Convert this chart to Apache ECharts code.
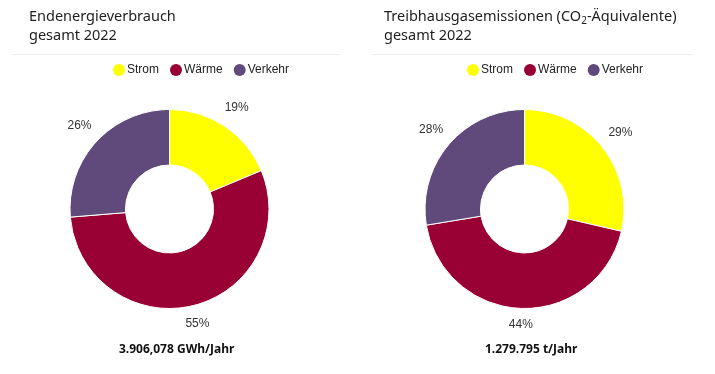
<!DOCTYPE html>
<html>
<head>
<meta charset="utf-8">
<script src="https://cdn.jsdelivr.net/npm/echarts@6/dist/echarts.min.js"></script>
<style>
html,body{margin:0;padding:0;background:#fff;}
#chart{width:715px;height:374px;}
</style>
</head>
<body>
<div id="chart"></div>
<script>
// Data
const categories = ['Strom', 'Wärme', 'Verkehr'];
const energyShares = [18.7, 55.0, 26.3];      // Endenergieverbrauch 2022 (%)
const emissionShares = [28.6, 43.8, 27.6];    // Treibhausgasemissionen 2022 (%)
const energyTotal = '3.906,078 GWh/Jahr';
const emissionTotal = '1.279.795 t/Jahr';
const colors = ['#ffff00', '#990033', '#5f4a7b'];

const chart = echarts.init(document.getElementById('chart'));

const TITLE_FONT = '"Noto Sans", sans-serif';
const LABEL_FONT = '"Liberation Sans", Arial, sans-serif';

function labelLayout(params) {
  const pts = params.labelLinePoints;
  if (!pts || pts.length < 2) return {};
  const p0 = pts[0], p1 = pts[1];
  let vx = p1[0] - p0[0], vy = p1[1] - p0[1];
  const len = Math.sqrt(vx * vx + vy * vy) || 1;
  vx /= len; vy /= len;
  const w = params.labelRect.width, h = params.labelRect.height;
  const s = Math.abs(vx) * w / 2 + Math.abs(vy) * h / 2;
  const d = 10 + s;
  return { x: p0[0] + vx * d, y: p0[1] + vy * d, align: 'center', verticalAlign: 'middle' };
}

function pieSeries(name, values, center) {
  return {
    name: name,
    type: 'pie',
    center: center,
    radius: [44, 99.5],
    startAngle: 90,
    clockwise: true,
    avoidLabelOverlap: false,
    itemStyle: { borderColor: '#fff', borderWidth: 1 },
    emphasis: { scale: false },
    label: {
      show: true,
      position: 'outside',
      fontFamily: LABEL_FONT,
      fontSize: 12,
      color: '#333',
      formatter: p => Math.round(p.percent) + '%'
    },
    labelLine: { show: true, length: 10, length2: 0, lineStyle: { opacity: 0, width: 0 } },
    labelLayout: labelLayout,
    data: categories.map((c, i) => ({ name: c, value: values[i], itemStyle: { color: colors[i] } }))
  };
}

const legendBase = {
  data: categories,
  icon: 'circle',
  itemWidth: 12,
  itemHeight: 12,
  itemGap: 11,
  padding: 0,
  top: 64,
  itemStyle: { borderWidth: 0 },
  textStyle: { fontFamily: LABEL_FONT, fontSize: 12, color: '#222', padding: [0, 0, 0, -3] }
};

chart.setOption({
  animation: false,
  color: colors,
  title: [
    {
      text: 'Endenergieverbrauch\ngesamt 2022',
      left: 24, top: 2,
      textStyle: { fontFamily: TITLE_FONT, fontSize: 14.5, fontWeight: 'normal', color: '#222', lineHeight: 19 }
    },
    {
      text: '{a|Treibhausgasemissionen (CO}{s|2}{a|-Äquivalente)}\n{a|gesamt 2022}',
      left: 379, top: 2,
      textStyle: {
        fontWeight: 'normal',
        rich: {
          a: { fontFamily: TITLE_FONT, fontSize: 14.5, fontWeight: 'normal', color: '#222', lineHeight: 19 },
          s: { fontFamily: TITLE_FONT, fontSize: 10, fontWeight: 'normal', color: '#222', lineHeight: 19, padding: [9, 0, 0, 0] }
        }
      }
    },
    {
      text: energyTotal,
      left: 114, top: 339,
      textStyle: { fontFamily: TITLE_FONT, fontSize: 12, fontWeight: 'bold', color: '#111' }
    },
    {
      text: emissionTotal,
      left: 480, top: 339,
      textStyle: { fontFamily: TITLE_FONT, fontSize: 12, fontWeight: 'bold', color: '#111' }
    }
  ],
  legend: [
    Object.assign({ left: 113 }, legendBase),
    Object.assign({ left: 467 }, legendBase)
  ],
  graphic: [
    { type: 'line', shape: { x1: 12, y1: 54.5, x2: 340, y2: 54.5 }, style: { stroke: '#efefef', lineWidth: 1 } },
    { type: 'line', shape: { x1: 372, y1: 54.5, x2: 693, y2: 54.5 }, style: { stroke: '#efefef', lineWidth: 1 } }
  ],
  series: [
    pieSeries('Endenergieverbrauch', energyShares, [169.5, 209]),
    pieSeries('Treibhausgasemissionen', emissionShares, [524.5, 209])
  ]
});
</script>
</body>
</html>
